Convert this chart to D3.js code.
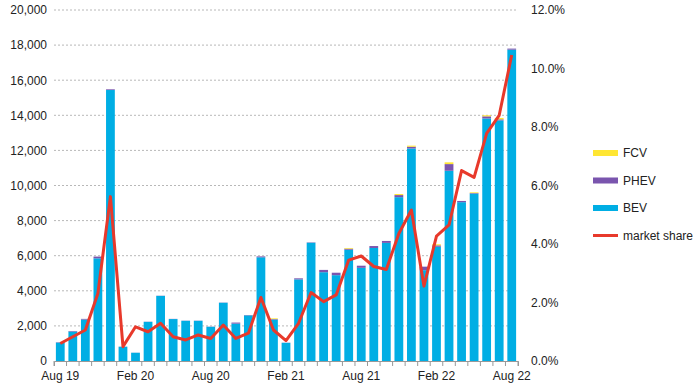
<!DOCTYPE html>
<html><head><meta charset="utf-8">
<script src="https://cdn.jsdelivr.net/npm/d3@7/dist/d3.min.js"></script>
<style>body{margin:0;background:#fff;}svg{display:block;font-family:"Liberation Sans",Arial,sans-serif;}</style>
</head><body><svg id="c" width="700" height="385"></svg>
<script>
const months = ["Aug 19","Sep 19","Oct 19","Nov 19","Dec 19","Jan 20","Feb 20","Mar 20","Apr 20","May 20","Jun 20","Jul 20","Aug 20","Sep 20","Oct 20","Nov 20","Dec 20","Jan 21","Feb 21","Mar 21","Apr 21","May 21","Jun 21","Jul 21","Aug 21","Sep 21","Oct 21","Nov 21","Dec 21","Jan 22","Feb 22","Mar 22","Apr 22","May 22","Jun 22","Jul 22","Aug 22"];
const tickLabels = ["Aug 19","Feb 20","Aug 20","Feb 21","Aug 21","Feb 22","Aug 22"];
const bev  = [1050,1680,2360,5850,15440,810,470,2230,3710,2390,2290,2290,1950,3320,2130,2600,5910,2360,1035,4650,6740,5060,4890,6340,5310,6440,6730,9335,12110,5175,6510,10840,9050,9540,13820,13710,17740];
const phev = [20,30,40,100,40,10,5,10,10,10,10,10,10,10,60,20,50,30,10,60,20,130,140,60,120,110,110,120,100,200,80,380,70,30,120,60,60];
const fcv  = [0,0,0,0,0,0,0,0,0,0,0,0,0,0,0,0,0,40,0,0,0,0,0,40,0,0,0,60,60,0,60,100,0,40,60,80,0];
const share = [0.60,0.83,1.06,2.31,5.62,0.49,1.17,1.00,1.29,0.83,0.72,0.89,0.77,1.23,0.77,0.95,2.17,1.06,0.70,1.29,2.34,2.03,2.26,3.45,3.59,3.23,3.13,4.36,5.16,2.56,4.27,4.65,6.51,6.28,7.78,8.40,10.46];
const leftTicks = [0,2000,4000,6000,8000,10000,12000,14000,16000,18000,20000];
const rightTicks = [0,2,4,6,8,10,12];

const svg = d3.select("#c");
const L = 54, R = 518, T = 10, B = 361;
const x = d3.scaleBand().domain(months).range([L, R]).paddingInner(0.3).paddingOuter(0.15);
const xb = d3.scaleBand().domain(months).range([L, R]);
const y = d3.scaleLinear().domain([0, 20000]).range([B, T]);
const y2 = d3.scaleLinear().domain([0, 12]).range([B, T]);
const colors = {BEV:"#00AEE4", PHEV:"#7A55AE", FCV:"#FFE633"};

// gridlines
svg.append("g").selectAll("line").data(leftTicks.filter(d=>d>0)).join("line")
  .attr("x1", L).attr("x2", R).attr("y1", d=>y(d)).attr("y2", d=>y(d))
  .attr("stroke", "#b8b8b8").attr("stroke-width", 1).attr("stroke-dasharray", "2,2");

// stacked bars
const rows = months.map((m,i)=>({m, BEV:bev[i], PHEV:phev[i], FCV:fcv[i]}));
const stack = d3.stack().keys(["BEV","PHEV","FCV"])(rows);
svg.append("g").selectAll("g").data(stack).join("g").attr("fill", d=>colors[d.key])
  .selectAll("rect").data(d=>d).join("rect")
  .attr("x", d=>x(d.data.m)).attr("width", x.bandwidth())
  .attr("y", d=>y(d[1])).attr("height", d=>Math.max(0, y(d[0]) - y(d[1])));

// baseline axis
const xa = svg.append("g").attr("transform", `translate(0,${B})`)
  .call(d3.axisBottom(xb).tickSize(5).tickFormat(d=>tickLabels.includes(d)?d:""));
xa.select(".domain").attr("stroke", "#999");
xa.selectAll(".tick line").attr("stroke", "#999").attr("transform", `translate(${-xb.bandwidth()/2},0)`);
xa.append("line").attr("x1", R).attr("x2", R).attr("y1", 0).attr("y2", 5).attr("stroke", "#999");
xa.selectAll("text").attr("font-size", 12).attr("fill", "#222").attr("dy", "0.9em")
  .attr("font-family", '"Liberation Sans",Arial,sans-serif');

// left axis
const ya = svg.append("g").attr("transform", `translate(${L},0)`)
  .call(d3.axisLeft(y).tickValues(leftTicks).tickSize(0).tickPadding(7).tickFormat(d3.format(",")));
ya.select(".domain").remove();
ya.selectAll("text").attr("font-size", 12).attr("fill", "#222").attr("font-family", '"Liberation Sans",Arial,sans-serif');

// right axis
const ya2 = svg.append("g").attr("transform", `translate(${R},0)`)
  .call(d3.axisRight(y2).tickValues(rightTicks).tickSize(0).tickPadding(13).tickFormat(d=>d.toFixed(1)+"%"));
ya2.select(".domain").remove();
ya2.selectAll("text").attr("font-size", 12).attr("fill", "#222").attr("font-family", '"Liberation Sans",Arial,sans-serif');

// market share line
svg.append("path").datum(share)
  .attr("fill", "none").attr("stroke", "#E8392B").attr("stroke-width", 3).attr("stroke-linejoin", "round")
  .attr("d", d3.line().x((d,i)=>xb(months[i]) + xb.bandwidth()/2).y(d=>y2(d)));

// legend
const legend = [{k:"FCV",c:colors.FCV},{k:"PHEV",c:colors.PHEV},{k:"BEV",c:colors.BEV},{k:"market share",c:"#E8392B",line:true}];
const lg = svg.append("g").selectAll("g").data(legend).join("g")
  .attr("transform", (d,i)=>`translate(593,${153 + i*27.5})`);
lg.filter(d=>!d.line).append("rect").attr("x",0).attr("y",-3).attr("width",25).attr("height",6).attr("fill", d=>d.c);
lg.filter(d=>d.line).append("line").attr("x1",0).attr("x2",25).attr("y1",0).attr("y2",0).attr("stroke", d=>d.c).attr("stroke-width",3);
lg.append("text").attr("x", 30).attr("y", 0).attr("dy","0.35em").attr("font-size", 12).attr("fill","#222").text(d=>d.k);
</script></body></html>
